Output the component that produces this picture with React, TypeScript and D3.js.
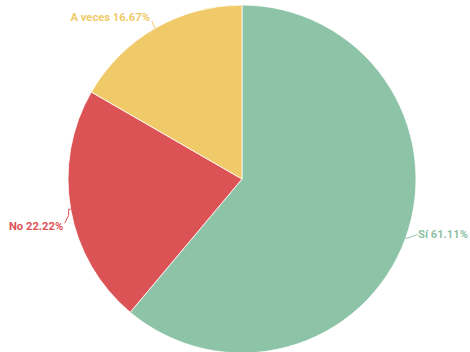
import React from "react";
import * as d3 from "d3";

const categories = ["Sí", "No", "A veces"];
const values = [61.11, 22.22, 16.67];
const colors = ["#8dc3a7", "#dc5356", "#f0ca68"];
const labelText = ["Sí 61.11%", "No 22.22%", "A veces 16.67%"];

const W = 470;
const H = 352;
const cx = 242;
const cy = 179;
const R = 174;

export default function App() {
  const pie = d3.pie<number>().sort(null).value((d) => d);
  const arcs = pie(values);
  const arc = d3.arc<d3.PieArcDatum<number>>().innerRadius(0).outerRadius(R);

  return (
    <svg width={W} height={H} style={{ position: "absolute", left: 0, top: 0 }}>
      <g transform={`translate(${cx},${cy})`}>
        {arcs.map((a, i) => (
          <path key={i} d={arc(a) || ""} fill={colors[i]} stroke="#ffffff" strokeWidth={1} strokeOpacity={0.8} />
        ))}
        {arcs.map((a, i) => {
          const mid = (a.startAngle + a.endAngle) / 2;
          const sx = R * Math.sin(mid);
          const sy = -R * Math.cos(mid);
          const right = Math.sin(mid) > 0;
          let pts: [number, number][];
          let tx: number, ty: number;
          if (i === 0) {
            pts = [[sx, sy], [sx + 4, sy - 1], [sx + 12, sy - 4]];
            tx = sx + 12.5; ty = sy - 3;
          } else if (i === 1) {
            pts = [[sx, sy], [sx - 2, sy], [sx - 2, sy + 6], [sx - 6, sy + 14]];
            tx = sx - 7.5; ty = sy + 18;
          } else {
            pts = [[sx, sy], [sx - 3, sy - 7]];
            tx = sx - 5; ty = sy - 10;
          }
          const line = d3.line()(pts) || "";
          return (
            <g key={"l" + i}>
              <path d={line} fill="none" stroke={colors[i]} strokeWidth={1} />
              <text
                x={tx}
                y={ty}
                fill={colors[i]}
                fontFamily="Roboto, sans-serif"
                fontWeight="bold"
                fontSize={11.2}
                textAnchor={right ? "start" : "end"}
                dominantBaseline="middle"
              >
                {labelText[i]}
              </text>
            </g>
          );
        })}
      </g>
    </svg>
  );
}
